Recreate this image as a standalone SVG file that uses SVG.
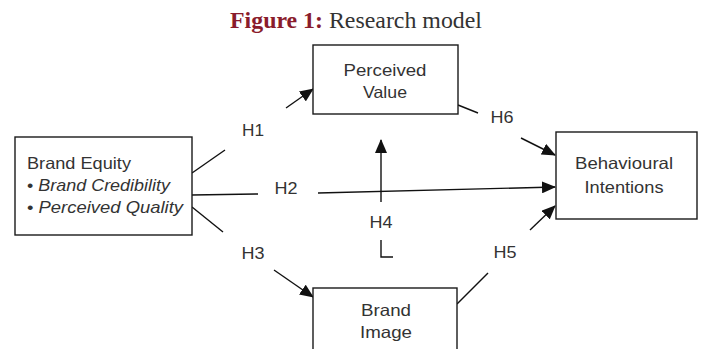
<svg xmlns="http://www.w3.org/2000/svg" width="701" height="349" viewBox="0 0 701 349">
<style>
.box{fill:#fff;stroke:#1a1a1a;stroke-width:1.4}
.t{font-family:"Liberation Sans",Arial,sans-serif;font-size:16.5px;fill:#333}
.lbl{font-family:"Liberation Sans",Arial,sans-serif;font-size:16.5px;fill:#333;text-anchor:middle}
.c{text-anchor:middle}
.ln{stroke:#111;stroke-width:1.4;fill:none}
</style>
<defs>
<marker id="ah" markerUnits="userSpaceOnUse" markerWidth="14" markerHeight="12" refX="13" refY="6" orient="auto">
<path d="M0,0 L14,6 L0,12 Z" fill="#111"/>
</marker>
</defs>
<rect width="701" height="349" fill="#fff"/>
<text x="230" y="28" font-family="Liberation Serif,'Times New Roman',serif" font-size="22.5" fill="#333" textLength="252" lengthAdjust="spacingAndGlyphs"><tspan font-weight="bold" fill="#8a1c2c">Figure 1:</tspan> Research model</text>

<g id="connectors">
<line class="ln" x1="192" y1="173" x2="225" y2="150"/>
<line class="ln" x1="286" y1="108" x2="313" y2="89" marker-end="url(#ah)"/>
<line class="ln" x1="192" y1="195" x2="258" y2="194"/>
<line class="ln" x1="318" y1="193" x2="555" y2="187" marker-end="url(#ah)"/>
<line class="ln" x1="192" y1="207" x2="223" y2="232"/>
<line class="ln" x1="274" y1="270" x2="313" y2="297" marker-end="url(#ah)"/>
<line class="ln" x1="458" y1="105" x2="478" y2="113"/>
<line class="ln" x1="521" y1="138" x2="555" y2="155" marker-end="url(#ah)"/>
<line class="ln" x1="457" y1="304" x2="488" y2="273"/>
<line class="ln" x1="530" y1="230" x2="555" y2="206" marker-end="url(#ah)"/>
<line class="ln" x1="381" y1="202" x2="381" y2="140" marker-end="url(#ah)"/>
<polyline class="ln" points="381,240 381,257 393,257"/>
<text class="lbl" x="253" y="136" textLength="22" lengthAdjust="spacingAndGlyphs">H1</text>
<text class="lbl" x="286" y="194" textLength="23" lengthAdjust="spacingAndGlyphs">H2</text>
<text class="lbl" x="253" y="259" textLength="23" lengthAdjust="spacingAndGlyphs">H3</text>
<text class="lbl" x="381" y="228" textLength="23" lengthAdjust="spacingAndGlyphs">H4</text>
<text class="lbl" x="505" y="258" textLength="23" lengthAdjust="spacingAndGlyphs">H5</text>
<text class="lbl" x="502" y="123" textLength="23" lengthAdjust="spacingAndGlyphs">H6</text>
</g>

<g id="brand-equity">
<rect class="box" x="15" y="137" width="177" height="98"/>
<text class="t" x="27" y="169" textLength="104" lengthAdjust="spacingAndGlyphs">Brand Equity</text>
<text class="t" x="27" y="191" textLength="143" lengthAdjust="spacingAndGlyphs">• <tspan font-style="italic">Brand Credibility</tspan></text>
<text class="t" x="27" y="213" textLength="156" lengthAdjust="spacingAndGlyphs">• <tspan font-style="italic">Perceived Quality</tspan></text>
</g>

<g id="perceived-value">
<rect class="box" x="313" y="45" width="145" height="69"/>
<text class="t c" x="385" y="75.5" textLength="83" lengthAdjust="spacingAndGlyphs">Perceived</text>
<text class="t c" x="385" y="97.5" textLength="44" lengthAdjust="spacingAndGlyphs">Value</text>
</g>

<g id="behavioural-intentions">
<rect class="box" x="556" y="132" width="141" height="87"/>
<text class="t c" x="624" y="169" textLength="98" lengthAdjust="spacingAndGlyphs">Behavioural</text>
<text class="t c" x="624" y="193" textLength="79" lengthAdjust="spacingAndGlyphs">Intentions</text>
</g>

<g id="brand-image">
<rect class="box" x="313" y="288" width="144" height="70"/>
<text class="t c" x="386" y="316" textLength="50" lengthAdjust="spacingAndGlyphs">Brand</text>
<text class="t c" x="386" y="338" textLength="52" lengthAdjust="spacingAndGlyphs">Image</text>
</g>
</svg>
